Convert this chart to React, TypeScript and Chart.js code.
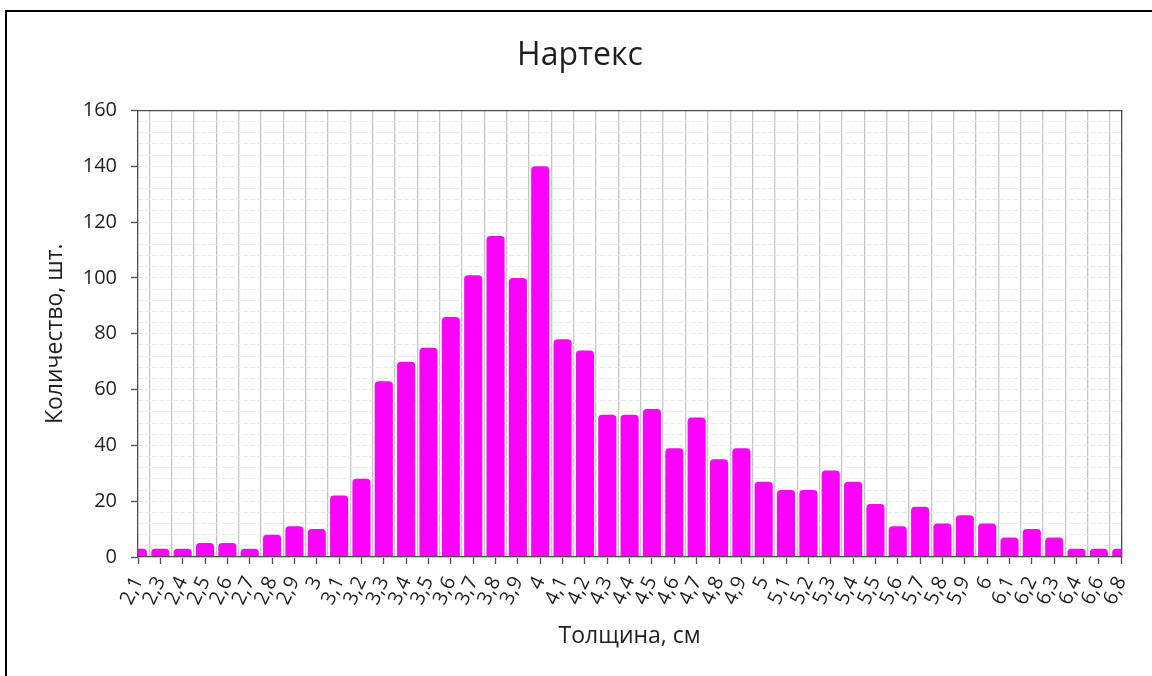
import React, { useEffect, useRef } from 'react';
import { Chart, registerables } from 'chart.js';

Chart.register(...registerables);

const chartTitle = 'Нартекс';
const xTitle = 'Толщина, см';
const yTitle = 'Количество, шт.';

const categories = [
  '2,1', '2,3', '2,4', '2,5', '2,6', '2,7', '2,8', '2,9',
  '3', '3,1', '3,2', '3,3', '3,4', '3,5', '3,6', '3,7', '3,8', '3,9',
  '4', '4,1', '4,2', '4,3', '4,4', '4,5', '4,6', '4,7', '4,8', '4,9',
  '5', '5,1', '5,2', '5,3', '5,4', '5,5', '5,6', '5,7', '5,8', '5,9',
  '6', '6,1', '6,2', '6,3', '6,4', '6,6', '6,8',
];

const counts = [
  3, 3, 3, 5, 5, 3, 8, 11,
  10, 22, 28, 63, 70, 75, 86, 101, 115, 100,
  140, 78, 74, 51, 51, 53, 39, 50, 35, 39,
  27, 24, 24, 31, 27, 19, 11, 18, 12, 15,
  12, 7, 10, 7, 3, 3, 3,
];

const yMin = 0;
const yMax = 160;
const yLabelStep = 20;
const yGridStep = 4;

const FONT = "'Open Sans', 'Noto Sans', sans-serif";
const AXIS_COLOR = '#4d4d4d';
const TEXT_COLOR = '#1f1f1f';

export default function App() {
  const ref = useRef<HTMLCanvasElement>(null);

  useEffect(() => {
    if (!ref.current) return;
    const chart = new Chart(ref.current, {
      type: 'bar',
      data: {
        labels: categories,
        datasets: [
          {
            data: counts,
            backgroundColor: '#FF00FF',
            borderWidth: 0,
            borderRadius: { topLeft: 4, topRight: 4, bottomLeft: 0, bottomRight: 0 },
            borderSkipped: 'bottom',
            barPercentage: 0.81,
            categoryPercentage: 1,
            clip: 0,
            xAxisID: 'x',
            yAxisID: 'y',
          } as any,
        ],
      },
      options: {
        responsive: false,
        maintainAspectRatio: false,
        animation: false,
        layout: { padding: { left: 38, right: 30, top: 0, bottom: 0 } },
        plugins: {
          legend: { display: false },
          tooltip: { enabled: false },
          title: {
            display: true,
            text: chartTitle,
            color: TEXT_COLOR,
            font: { family: FONT, size: 32, weight: 'normal' },
            padding: { top: 36.8, bottom: 35.3 },
          },
        },
        scales: {
          x: {
            type: 'category',
            position: 'bottom',
            offset: false,
            grid: {
              offset: false,
              drawOnChartArea: false,
              drawTicks: true,
              tickLength: 7,
              tickColor: AXIS_COLOR,
              tickWidth: 1.3,
            },
            border: { display: true, color: AXIS_COLOR, width: 1.3, z: 1 } as any,
            ticks: {
              autoSkip: false,
              minRotation: 65,
              maxRotation: 65,
              padding: 9,
              color: TEXT_COLOR,
              font: { family: FONT, size: 20 },
            },
            title: {
              display: true,
              text: xTitle,
              color: TEXT_COLOR,
              font: { family: FONT, size: 23 },
              padding: { top: 0, bottom: 25.7 },
            },
            afterFit: (s: any) => {
              s.height = 119;
            },
          },
          x2: {
            type: 'category',
            labels: categories,
            position: 'top',
            offset: false,
            grid: {
              offset: true,
              drawTicks: false,
              color: '#c4c4c4',
              lineWidth: 1.3,
            },
            border: { display: true, color: AXIS_COLOR, width: 1.3 },
            ticks: { display: false },
            afterFit: (s: any) => {
              s.height = 0;
            },
          } as any,
          y: {
            type: 'linear',
            position: 'left',
            min: yMin,
            max: yMax,
            ticks: {
              stepSize: yGridStep,
              autoSkip: false,
              padding: 14,
              color: TEXT_COLOR,
              font: { family: FONT, size: 20 },
              callback: (v: any) => (Number(v) % yLabelStep === 0 ? String(v) : ''),
            },
            grid: {
              color: '#e9e9e9',
              lineWidth: 1,
              tickLength: 7,
              tickWidth: 1.3,
              tickColor: (c: any) =>
                c.tick && c.tick.value % yLabelStep === 0 ? AXIS_COLOR : 'rgba(0,0,0,0)',
            },
            border: { display: true, color: AXIS_COLOR, width: 1.3, dash: [5, 2] },
            title: {
              display: true,
              text: yTitle,
              color: TEXT_COLOR,
              font: { family: FONT, size: 23 },
              padding: { top: 4, bottom: 0 },
            },
            afterFit: (s: any) => {
              s.width = 100;
            },
          },
          y2: {
            type: 'linear',
            position: 'right',
            min: yMin,
            max: yMax,
            grid: { display: false, drawTicks: false },
            ticks: { display: false },
            border: { display: true, color: AXIS_COLOR, width: 1.3 },
            afterFit: (s: any) => {
              s.width = 0;
            },
          },
        },
      } as any,
    });
    return () => chart.destroy();
  }, []);

  return (
    <div
      style={{
        position: 'fixed',
        left: 0,
        top: 0,
        width: 1152,
        height: 676,
        overflow: 'hidden',
        background: '#ffffff',
      }}
    >
      <div
        style={{
          position: 'absolute',
          left: 5,
          top: 10,
          width: 1200,
          height: 720,
          border: '2px solid #000',
          boxSizing: 'border-box',
        }}
      />
      <canvas
        ref={ref}
        width={1152}
        height={676}
        style={{ position: 'absolute', left: 0, top: 0, width: 1152, height: 676, display: 'block' }}
      />
    </div>
  );
}
